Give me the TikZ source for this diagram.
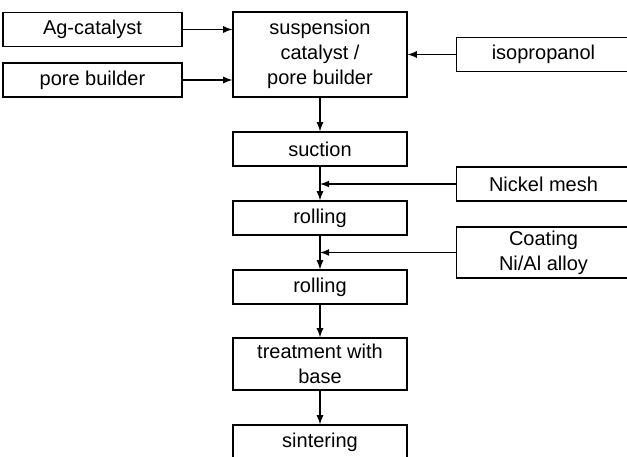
\documentclass[tikz,border=0pt]{standalone}
\usepackage{fontspec}
\setmainfont{Liberation Sans}
\usetikzlibrary{arrows, positioning}

\begin{document}
\begin{tikzpicture}[
  x=0.5pt, y=-0.5pt,
  box/.style={rectangle, draw, line width=0.6pt, fill=white, minimum width=87pt, minimum height=17pt, inner sep=0pt, align=center, font=\fontsize{10}{12.5}\selectfont},
  arrow/.style={->, >=latex, line width=0.6pt}
]
\useasboundingbox (0,0) rectangle (627,456);
\clip (0,0) rectangle (627,456);

\node[box, minimum width=89.5pt] (agcat) at (92.5, 29.5) {Ag-catalyst};
\node[box, minimum width=89.5pt] (pore) at (92.5, 80) {pore builder};
\node[box, minimum height=42.5pt] (susp) at (320, 54.5) {suspension\\catalyst /\\pore builder};
\node[box] (iso) at (543.5, 54.5) {isopropanol};
\node[box] (suction) at (320, 149) {suction};
\node[box] (nickel) at (543.5, 184) {Nickel mesh};
\node[box] (roll1) at (320, 218) {rolling};
\node[box, minimum height=25.5pt] (coat) at (543.5, 252.5) {Coating\\Ni/Al alloy};
\node[box] (roll2) at (320, 287) {rolling};
\node[box, minimum height=26pt] (treat) at (320, 364) {treatment with\\base};
\node[box] (sinter) at (320, 442) {sintering};

\draw[arrow] (agcat.east) -- (agcat.east -| susp.west);
\draw[arrow] (pore.east) -- (pore.east -| susp.west);
\draw[arrow] (iso) -- (susp);
\draw[arrow] (susp) -- (suction);
\draw[arrow] (suction) -- (roll1);
\draw[arrow] (nickel) -- (nickel.west -| suction.south);
\draw[arrow] (roll1) -- (roll2);
\draw[arrow] (coat) -- (coat.west -| roll1.south);
\draw[arrow] (roll2) -- (treat);
\draw[arrow] (treat) -- (sinter);
\end{tikzpicture}
\end{document}
